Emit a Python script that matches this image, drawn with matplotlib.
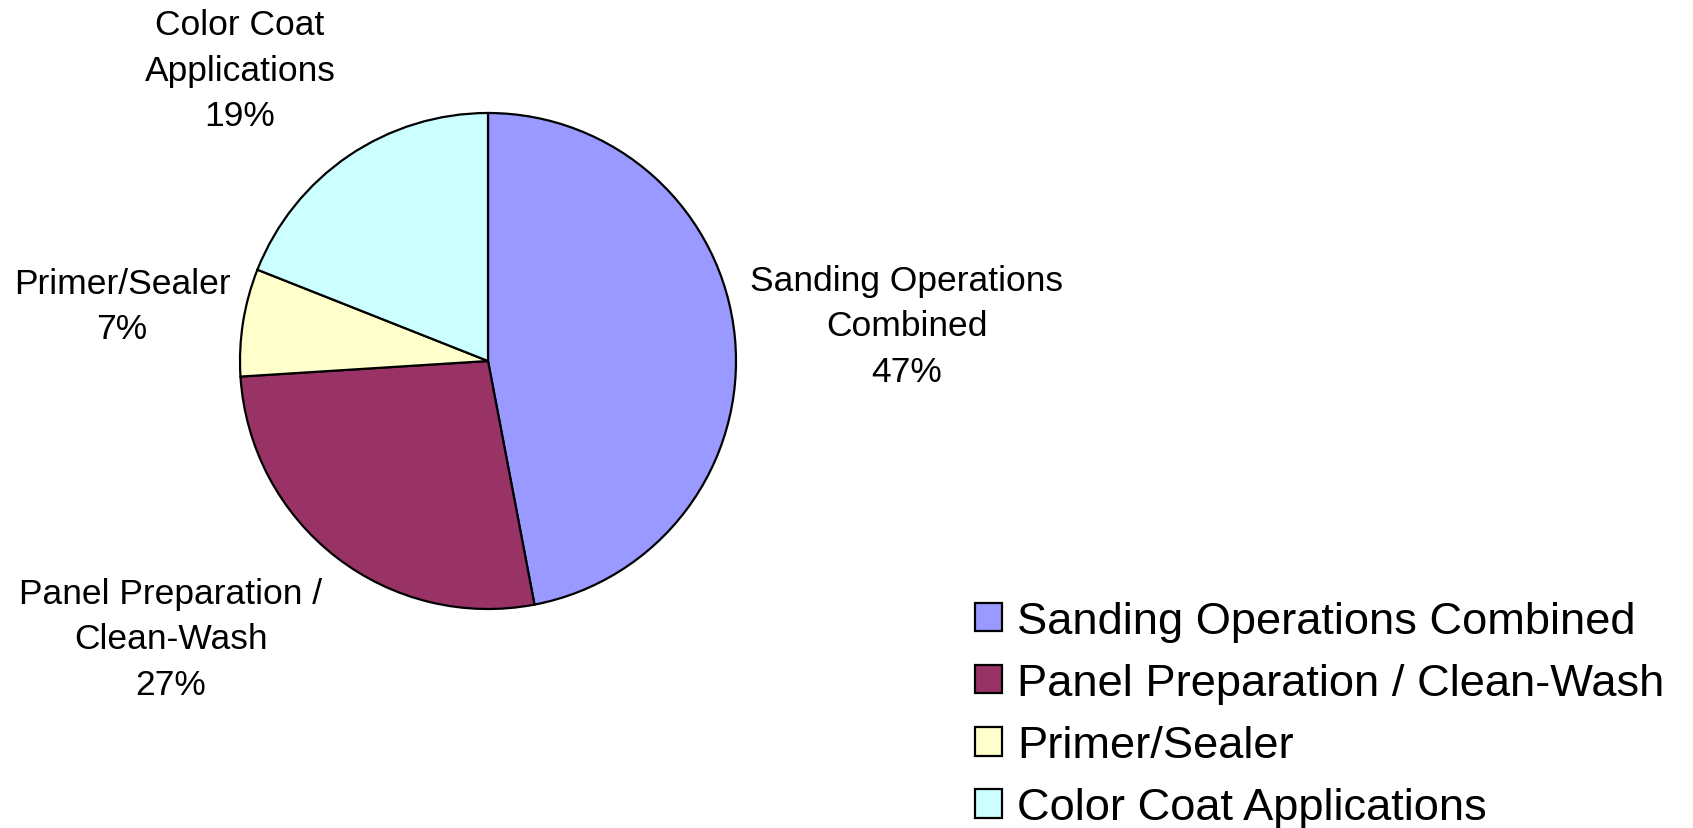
import matplotlib
matplotlib.use("Agg")
import matplotlib.pyplot as plt

categories = ["Sanding Operations Combined", "Panel Preparation / Clean-Wash",
              "Primer/Sealer", "Color Coat Applications"]
slice_labels = ["Sanding Operations\nCombined", "Panel Preparation /\nClean-Wash",
                "Primer/Sealer", "Color Coat\nApplications"]
values = [47, 27, 7, 19]
colors = ["#9999FF", "#993366", "#FFFFCC", "#CCFFFF"]

plt.rcParams['font.family'] = ['Liberation Sans', 'DejaVu Sans']

W, H = 1693, 829
fig = plt.figure(figsize=(W / 100, H / 100), dpi=100)
fig.patch.set_facecolor("white")

cx, cy, r = 488, 362, 248
ax = fig.add_axes([(cx - r) / W, (H - cy - r) / H, 2 * r / W, 2 * r / H])
wedges, _ = ax.pie(values, colors=colors, startangle=90, counterclock=False,
                   radius=1.0, wedgeprops=dict(edgecolor="black", linewidth=1.6))
ax.set_xlim(-1, 1)
ax.set_ylim(-1, 1)
ax.set_aspect("equal")
ax.axis("off")

# label positions (figure pixels, center of text block)
label_pos = [(907, 327), (171, 640), (122, 307), (240, 71)]
for lab, v, (px, py) in zip(slice_labels, values, label_pos):
    fig.text(px / W, 1 - py / H, f"{lab}\n{v}%", ha="center", va="center",
             fontsize=25.5, linespacing=1.49, color="black")

leg = fig.legend(wedges, categories, loc="upper left",
                 bbox_to_anchor=(975 / W, 1 - 602 / H), frameon=False,
                 fontsize=32.6, handlelength=0.6, handleheight=0.6,
                 handletextpad=0.33, labelspacing=0.465, borderpad=0.0,
                 borderaxespad=0.0)
for h in leg.legend_handles:
    h.set_linewidth(1.6)

fig.savefig("out.png", dpi=100, facecolor="white")
